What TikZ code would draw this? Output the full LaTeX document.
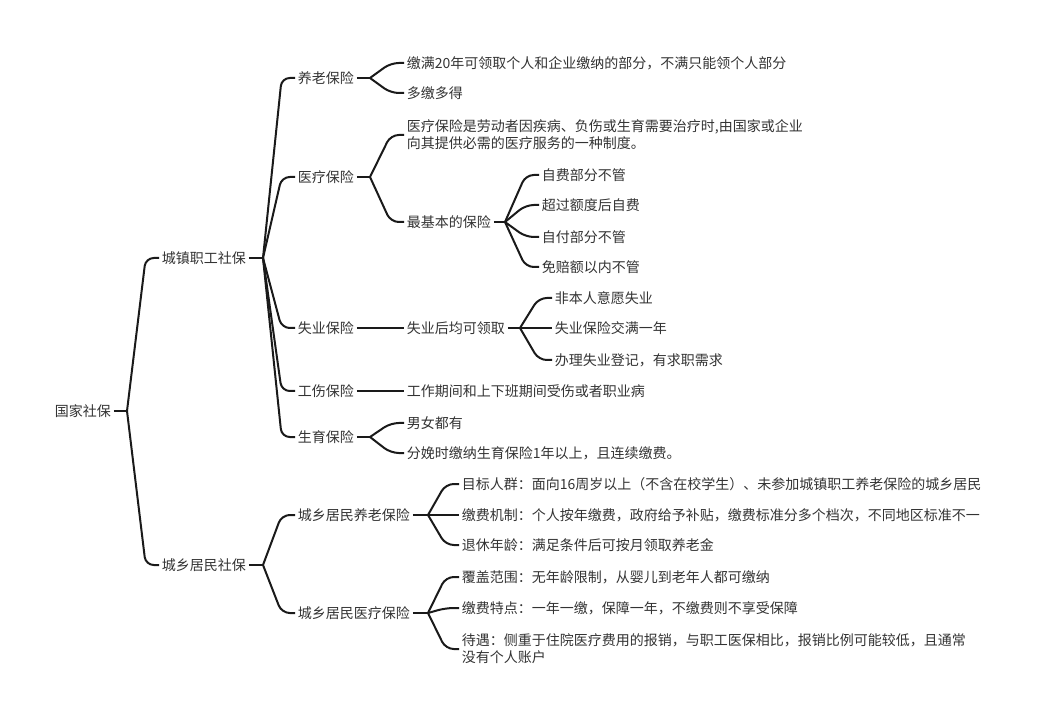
\documentclass[tikz,border=0pt]{standalone}
\usepackage{fontspec}
\newfontfamily\cjk{Noto Sans CJK SC}
\definecolor{linecol}{HTML}{1A1A1A}
\definecolor{textcol}{HTML}{333333}
\tikzset{
  topic/.style={anchor=west, inner xsep=2pt, inner ysep=1pt, align=left, text=textcol, font=\cjk\fontsize{10.5}{12.8}\selectfont},
  link/.style={draw=linecol, line width=1.5pt, rounded corners=6pt},
}

\begin{document}
\begin{tikzpicture}[x=0.75pt, y=-0.75pt]
      \useasboundingbox (0,0) rectangle (1061,720);

      % 节点
      \node[topic] (root) at (52,411) {国家社保};
      \node[topic] (cz) at (159,258) {城镇职工社保};
      \node[topic] (cx) at (159,565) {城乡居民社保};

      \node[topic] (yl) at (295,78) {养老保险};
      \node[topic] (yb) at (295,177) {医疗保险};
      \node[topic] (sy) at (295,328) {失业保险};
      \node[topic] (gs) at (295,391) {工伤保险};
      \node[topic] (sb) at (295,437) {生育保险};

      \node[topic] (ylA) at (404,63) {缴满20年可领取个人和企业缴纳的部分，不满只能领个人部分};
      \node[topic] (ylB) at (404,93) {多缴多得};
      \node[topic] (ybA) at (404,135) {医疗保险是劳动者因疾病、负伤或生育需要治疗时,由国家或企业\\向其提供必需的医疗服务的一种制度。};
      \node[topic] (ybB) at (404,222) {最基本的保险};
      \node[topic] (ybB1) at (539,175) {自费部分不管};
      \node[topic] (ybB2) at (539,205) {超过额度后自费};
      \node[topic] (ybB3) at (539,237) {自付部分不管};
      \node[topic] (ybB4) at (539,267) {免赔额以内不管};
      \node[topic] (syA) at (404,328) {失业后均可领取};
      \node[topic] (syA1) at (552,298) {非本人意愿失业};
      \node[topic] (syA2) at (552,328) {失业保险交满一年};
      \node[topic] (syA3) at (552,360) {办理失业登记，有求职需求};
      \node[topic] (gsA) at (404,391) {工作期间和上下班期间受伤或者职业病};
      \node[topic] (sbA) at (404,423) {男女都有};
      \node[topic] (sbB) at (404,453) {分娩时缴纳生育保险1年以上，且连续缴费。};

      \node[topic] (cxA) at (295,515) {城乡居民养老保险};
      \node[topic] (cxB) at (295,613) {城乡居民医疗保险};
      \node[topic] (cxA1) at (459,484) {目标人群：面向16周岁以上（不含在校学生）、未参加城镇职工养老保险的城乡居民};
      \node[topic] (cxA2) at (459,515) {缴费机制：个人按年缴费，政府给予补贴，缴费标准分多个档次，不同地区标准不一};
      \node[topic] (cxA3) at (459,545) {退休年龄：满足条件后可按月领取养老金};
      \node[topic] (cxB1) at (459,577) {覆盖范围：无年龄限制，从婴儿到老年人都可缴纳};
      \node[topic] (cxB2) at (459,608) {缴费特点：一年一缴，保障一年，不缴费则不享受保障};
      \node[topic] (cxB3) at (459,649) {待遇：侧重于住院医疗费用的报销，与职工医保相比，报销比例可能较低，且通常\\没有个人账户};

      % 分支点
      \coordinate (b0) at (127,411);
      \coordinate (b1) at (263,258);
      \coordinate (b2) at (370,78);
      \coordinate (b3) at (370,177);
      \coordinate (b4) at (505,222);
      \coordinate (b5) at (520,328);
      \coordinate (b6) at (370,437);
      \coordinate (b7) at (263,565);
      \coordinate (b8) at (428,515);
      \coordinate (b9) at (428,613);

      % 线
      \draw[link] (root.east) -- (b0);
      \draw[link] (b0) -- ([xshift=-10pt]cz.west) -- (cz.west);
      \draw[link] (b0) -- ([xshift=-10pt]cx.west) -- (cx.west);

      \draw[link] (cz.east) -- (b1);
      \draw[link] (b1) -- ([xshift=-10pt]yl.west) -- (yl.west);
      \draw[link] (b1) -- ([xshift=-10pt]yb.west) -- (yb.west);
      \draw[link] (b1) -- ([xshift=-10pt]sy.west) -- (sy.west);
      \draw[link] (b1) -- ([xshift=-10pt]gs.west) -- (gs.west);
      \draw[link] (b1) -- ([xshift=-10pt]sb.west) -- (sb.west);

      \draw[link] (yl.east) -- (b2);
      \draw[link] (b2) -- ([xshift=-10pt]ylA.west) -- (ylA.west);
      \draw[link] (b2) -- ([xshift=-10pt]ylB.west) -- (ylB.west);

      \draw[link] (yb.east) -- (b3);
      \draw[link] (b3) -- ([xshift=-10pt]ybA.west) -- (ybA.west);
      \draw[link] (b3) -- ([xshift=-10pt]ybB.west) -- (ybB.west);
      \draw[link] (ybB.east) -- (b4);
      \draw[link] (b4) -- ([xshift=-10pt]ybB1.west) -- (ybB1.west);
      \draw[link] (b4) -- ([xshift=-10pt]ybB2.west) -- (ybB2.west);
      \draw[link] (b4) -- ([xshift=-10pt]ybB3.west) -- (ybB3.west);
      \draw[link] (b4) -- ([xshift=-10pt]ybB4.west) -- (ybB4.west);

      \draw[link] (sy.east) -- (syA.west);
      \draw[link] (syA.east) -- (b5);
      \draw[link] (b5) -- ([xshift=-10pt]syA1.west) -- (syA1.west);
      \draw[link] (b5) -- (syA2.west);
      \draw[link] (b5) -- ([xshift=-10pt]syA3.west) -- (syA3.west);

      \draw[link] (gs.east) -- (gsA.west);

      \draw[link] (sb.east) -- (b6);
      \draw[link] (b6) -- ([xshift=-10pt]sbA.west) -- (sbA.west);
      \draw[link] (b6) -- ([xshift=-10pt]sbB.west) -- (sbB.west);

      \draw[link] (cx.east) -- (b7);
      \draw[link] (b7) -- ([xshift=-10pt]cxA.west) -- (cxA.west);
      \draw[link] (b7) -- ([xshift=-10pt]cxB.west) -- (cxB.west);

      \draw[link] (cxA.east) -- (b8);
      \draw[link] (b8) -- ([xshift=-10pt]cxA1.west) -- (cxA1.west);
      \draw[link] (b8) -- (cxA2.west);
      \draw[link] (b8) -- ([xshift=-10pt]cxA3.west) -- (cxA3.west);

      \draw[link] (cxB.east) -- (b9);
      \draw[link] (b9) -- ([xshift=-10pt]cxB1.west) -- (cxB1.west);
      \draw[link] (b9) -- ([xshift=-10pt]cxB2.west) -- (cxB2.west);
      \draw[link] (b9) -- ([xshift=-10pt]cxB3.west) -- (cxB3.west);
    \end{tikzpicture}
\end{document}
